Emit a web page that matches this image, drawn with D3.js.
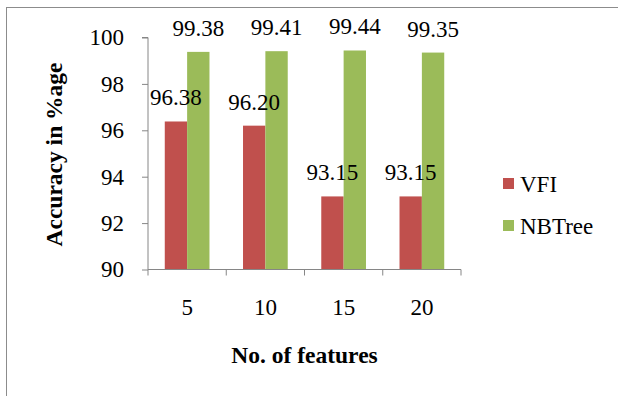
<!DOCTYPE html>
<html>
<head>
<meta charset="utf-8">
<script src="https://cdn.jsdelivr.net/npm/d3@7"></script>
<style>
  html, body { margin: 0; padding: 0; background: #fff; }
  svg { display: block; }
</style>
</head>
<body>
<svg id="chart" width="618" height="396"></svg>
<script>
// Feature counts on the x axis
const categories = ["5", "10", "15", "20"];
// Series names
const seriesNames = ["VFI", "NBTree"];
// Accuracy (%) for each feature count
const vfiValues = [96.38, 96.20, 93.15, 93.15];
const nbtreeValues = [99.38, 99.41, 99.44, 99.35];
// Y axis ticks
const yTicks = [90, 92, 94, 96, 98, 100];

const colors = { VFI: "#C0504D", NBTree: "#9BBB59" };
const axisColor = "#868686";
const FONT = "'Liberation Serif', 'Times New Roman', Tinos, 'DejaVu Serif', serif";

const svg = d3.select("#chart");

// Outer frame
svg.append("rect")
  .attr("x", 6.5).attr("y", 7.5)
  .attr("width", 700).attr("height", 500)
  .attr("fill", "none").attr("stroke", "#8c8c8c").attr("stroke-width", 1);

const plot = { left: 148, right: 461, top: 37.5, bottom: 269.5 };

const x0 = d3.scaleBand().domain(categories).range([plot.left, plot.right]).padding(0);
const groupW = x0.bandwidth() * 2 / 3.5;
const groupOffset = (x0.bandwidth() - groupW) / 2;
const x1 = d3.scaleBand().domain(seriesNames).range([0, groupW]).padding(0);
const y = d3.scaleLinear().domain([90, 100]).range([plot.bottom, plot.top]);

const rows = categories.map((c, i) => ({
  cat: c,
  values: [
    { name: "VFI", value: vfiValues[i] },
    { name: "NBTree", value: nbtreeValues[i] }
  ]
}));

// Bars
const groups = svg.append("g").selectAll("g")
  .data(rows).join("g")
  .attr("transform", d => `translate(${x0(d.cat) + groupOffset},0)`);

groups.selectAll("rect")
  .data(d => d.values).join("rect")
  .attr("x", d => x1(d.name))
  .attr("y", d => y(d.value))
  .attr("width", x1.bandwidth())
  .attr("height", d => y(90) - y(d.value))
  .attr("fill", d => colors[d.name]);

// Value labels above each bar
groups.selectAll("text.val")
  .data(d => d.values).join("text")
  .attr("class", "val")
  .attr("x", d => x1(d.name) + x1.bandwidth() / 2)
  .attr("y", d => y(d.value) - 16)
  .attr("text-anchor", "middle")
  .style("font-family", FONT)
  .style("font-size", "23px")
  .text(d => d.value.toFixed(2));

// Y axis
const yAxis = d3.axisLeft(y).tickValues(yTicks).tickSize(6).tickPadding(18).tickFormat(d3.format("d"));
const gy = svg.append("g").attr("transform", `translate(${plot.left},0)`).call(yAxis);
gy.attr("font-family", null).attr("font-size", null);
gy.select(".domain").attr("stroke", axisColor).attr("d", `M-6,${plot.top}H0V${plot.bottom}`);
gy.selectAll(".tick line").attr("stroke", axisColor);
gy.selectAll(".tick text")
  .style("font-family", FONT).style("font-size", "23px").attr("fill", "#000");

// X axis: ticks sit on the category boundaries
const gx = svg.append("g").attr("transform", `translate(0,${plot.bottom})`);
gx.append("line")
  .attr("x1", plot.left).attr("x2", plot.right)
  .attr("stroke", axisColor);
const boundaries = categories.map(c => x0(c)).concat([x0(categories[categories.length - 1]) + x0.bandwidth()]);
gx.selectAll("line.tick").data(boundaries).join("line")
  .attr("class", "tick")
  .attr("x1", d => d).attr("x2", d => d)
  .attr("y1", 0).attr("y2", 6)
  .attr("stroke", axisColor);
gx.selectAll("text").data(categories).join("text")
  .attr("x", d => x0(d) + x0.bandwidth() / 2)
  .attr("y", 45.5)
  .attr("text-anchor", "middle")
  .style("font-family", FONT)
  .style("font-size", "23px")
  .text(d => d);

// Axis titles
svg.append("text")
  .attr("x", (plot.left + plot.right) / 2)
  .attr("y", 363)
  .attr("text-anchor", "middle")
  .style("font-family", FONT)
  .style("font-size", "23.5px").style("font-weight", "bold")
  .text("No. of features");

svg.append("text")
  .attr("transform", `translate(62,${(plot.top + plot.bottom) / 2 + 1}) rotate(-90)`)
  .attr("text-anchor", "middle")
  .style("font-family", FONT)
  .style("font-size", "23.5px").style("font-weight", "bold")
  .text("Accuracy in %age");

// Legend
const legend = svg.append("g").selectAll("g")
  .data(seriesNames).join("g")
  .attr("transform", (d, i) => `translate(503,${178 + i * 42})`);
legend.append("rect")
  .attr("width", 11).attr("height", 11)
  .attr("fill", d => colors[d]);
legend.append("text")
  .attr("x", 17).attr("y", 14)
  .style("font-family", FONT)
  .style("font-size", "23px")
  .text(d => d);
</script>
</body>
</html>
